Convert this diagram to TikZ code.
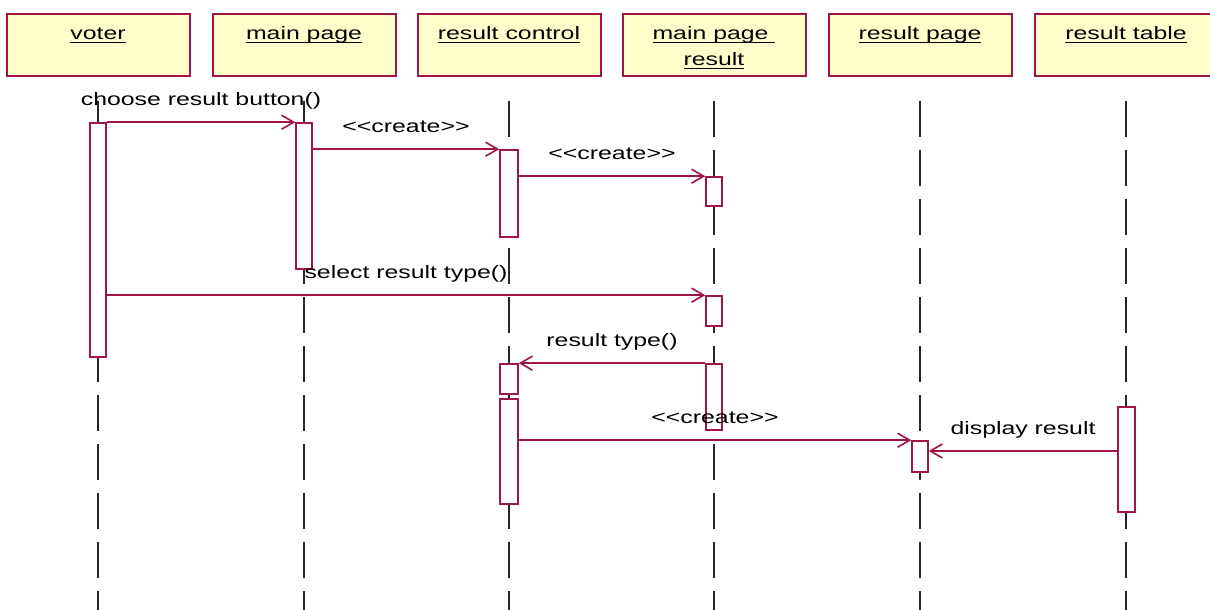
\documentclass[tikz,border=0pt]{standalone}
\usepackage{fontspec}
\setmainfont{Liberation Sans}
\usepackage{graphicx}
\usetikzlibrary{arrows.meta,fit}
\definecolor{umlred}{RGB}{160,20,70}
\definecolor{umlfill}{RGB}{255,255,204}
\newcommand\wtext[1]{\scalebox{1.38}[1]{#1}}
\newcommand\objname[1]{\wtext{\underline{\smash{#1}}}}
\newcommand\objtext[1]{\parbox[t][31pt][t]{90pt}{\centering\rule{0pt}{13pt}#1}}
\tikzset{
  objbox/.style={draw=umlred, fill=umlfill, line width=1pt, inner sep=0pt, minimum width=91.5pt, minimum height=31pt},
  lifeline/.style={draw=black!85, line width=1pt, dash pattern=on 18pt off 6.5pt},
  actbox/.style={draw=umlred, fill=white, line width=0.8pt, inner sep=0pt},
  msg/.style={draw=umlred, line width=0.8pt, -{Straight Barb[length=6pt,width=7pt]}},
  msglbl/.style={anchor=base, yshift=8.5pt, inner sep=0pt}
}
\begin{document}
\begin{tikzpicture}[x=0.5pt, y=-0.5pt, font=\fontsize{9pt}{13pt}\selectfont]
    \useasboundingbox (0,0) rectangle (1210,610);
    % objects
    \node[objbox] (voter) at (98,45) {\objtext{\objname{voter}}};
    \node[objbox] (main) at (304,45) {\objtext{\objname{main page}}};
    \node[objbox] (ctrl) at (509,45) {\objtext{\objname{result control}}};
    \node[objbox] (mpr) at (714,45) {\objtext{\objname{main page~}\\\objname{result}}};
    \node[objbox] (rpage) at (920,45) {\objtext{\objname{result page}}};
    \node[objbox] (rtable) at (1126,45) {\objtext{\objname{result table}}};
    % lifelines
    \foreach \obj in {voter,main,ctrl,mpr,rpage,rtable}
        \draw[lifeline] ([yshift=-12pt]\obj.south) -- (\obj.south |- 0,615);
    % activations
    \node[actbox, fit={(90,123) (106,357)}] (voterA) {};
    \node[actbox, fit={(296,123) (312,269)}] (mainA) {};
    \node[actbox, fit={(500,150) (518,237)}] (ctrlA) {};
    \node[actbox, fit={(500,364) (518,394)}] (ctrlB) {};
    \node[actbox, fit={(500,399) (518,504)}] (ctrlC) {};
    \node[actbox, fit={(706,177) (722,206)}] (mprA) {};
    \node[actbox, fit={(706,296) (722,326)}] (mprB) {};
    \node[actbox, fit={(706,364) (722,430)}] (mprC) {};
    \node[actbox, fit={(912,441) (928,472)}] (rpA) {};
    \node[actbox, fit={(1118,407) (1135,512)}] (rtA) {};
    \coordinate (dispAt) at (0,451);
    % messages
    \draw[msg] (voterA.north east) -- (mainA.north west) node[msglbl, midway] (m1) {\wtext{choose result button()}};
    \draw[msg] (mainA.east |- ctrlA.north) -- (ctrlA.north west) node[msglbl, midway] (m2) {\wtext{<{}<create>{}>}};
    \draw[msg] (ctrlA.east |- mprA.north) -- (mprA.north west) node[msglbl, midway] (m3) {\wtext{<{}<create>{}>}};
    \draw[msg] (voterA.east |- mprB.north) -- (mprB.north west) node[msglbl, midway] (m4) {\wtext{select result type()}};
    \draw[msg] (mprC.north west) -- (ctrlB.north east) node[msglbl, midway] (m5) {\wtext{result type()}};
    \draw[msg] (ctrlC.east |- rpA.north) -- (rpA.north west) node[msglbl, midway] (m6) {\wtext{<{}<create>{}>}};
    \draw[msg] (rtA.west |- dispAt) -- (rpA.east |- dispAt) node[msglbl, midway] (m7) {\wtext{display result}};
\end{tikzpicture}
\end{document}
